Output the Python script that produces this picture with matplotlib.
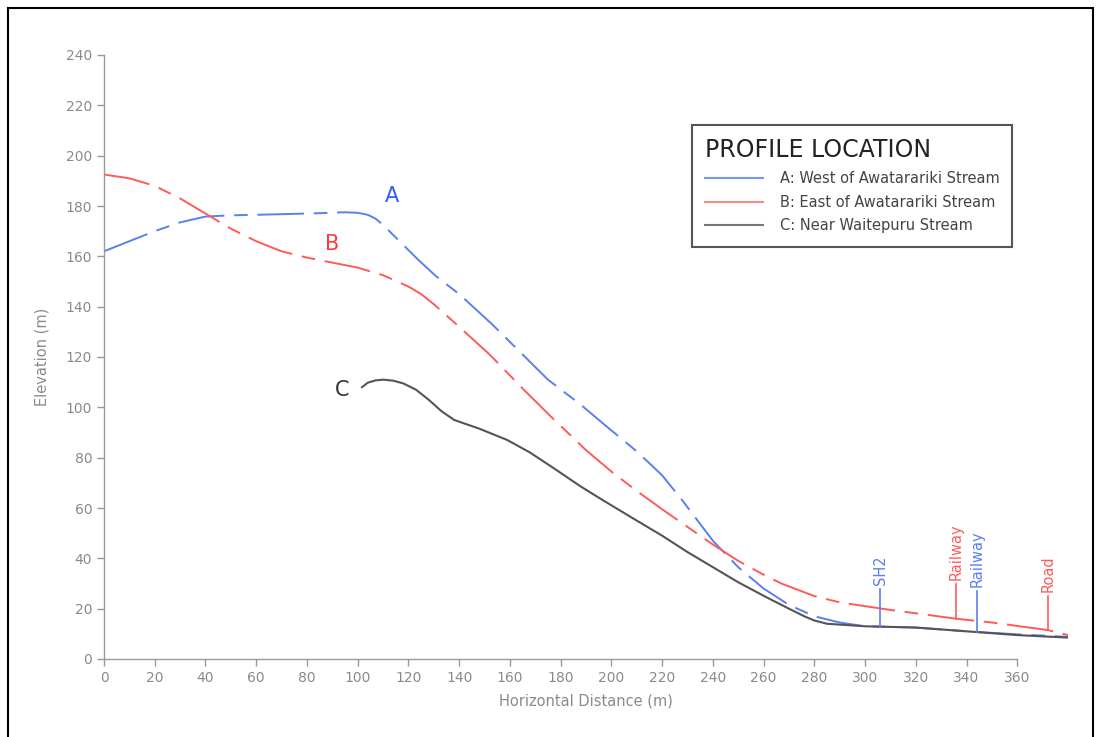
import numpy as np
import matplotlib.pyplot as plt
from matplotlib.lines import Line2D
from matplotlib.patches import Rectangle

# profile A: west of Awatarariki Stream
a_x = [0, 10, 20, 30, 40, 50, 60, 80, 95, 100, 104, 107, 110, 113, 117, 124, 131, 140, 153, 165,
       175, 188, 198, 210, 220, 228, 234, 240, 250, 260, 270, 280, 290, 300, 320, 340, 360, 380]
a_y = [162, 166, 170, 173.5, 175.8, 176.3, 176.5, 177, 177.5, 177.3, 176.5, 175, 172.5, 169.5,
       165.5, 158.5, 152, 145, 133, 121, 111, 101, 92.5, 82.5, 73, 63, 55, 47, 36.5, 28, 21.5, 17,
       14.5, 13, 12.5, 11, 9.8, 8.8]

# profile B: east of Awatarariki Stream
b_x = [0, 10, 20, 30, 40, 50, 60, 70, 80, 90, 100, 110, 120, 125, 130, 140, 152, 165, 177, 190,
       200, 209, 220, 230, 240, 250, 260, 267, 280, 290, 310, 336, 350, 372, 380]
b_y = [192.5, 191, 188, 183, 177, 171, 166, 162, 159.5, 157.5, 155.5, 152.5, 148, 145, 141, 132,
       121, 107.5, 95.5, 83, 74.5, 67.5, 59.5, 52.5, 45.5, 39, 33.5, 30, 25, 22.5, 19.5, 16, 14.5,
       11.5, 9.5]

# profile C: near Waitepuru Stream
c_x = [101.7, 104, 107, 110, 114, 118, 123, 128, 133, 138, 148, 159, 168, 177, 188, 196, 210,
       220, 230, 240, 250, 261, 270, 276, 280, 285, 300, 320, 340, 360, 380]
c_y = [108, 109.8, 110.7, 111, 110.6, 109.5, 107, 103, 98.5, 95, 91.5, 87, 82, 76, 68.5, 63.5, 55,
       49, 42.5, 36.5, 30.5, 24.6, 20, 17, 15.3, 14, 13, 12.5, 11, 9.5, 8.5]

# feature markers along the profiles
mark_x = [306, 336, 344, 372]
mark_top = [28, 30, 27, 25]
mark_labels = ['SH2', 'Railway', 'Railway', 'Road']
mark_series = ['A', 'B', 'A', 'B']

blue = '#5a7ff0'
red = '#ff5a5a'
dark = '#555555'
grey = '#8a8a8a'

fig = plt.figure(figsize=(11.02, 7.37), dpi=100)
ax = fig.add_axes([104 / 1102, 78 / 737, 964 / 1102, 604 / 737])

dash = (0, (24, 5, 7, 5))
ax.plot(a_x, a_y, color=blue, lw=1.4, linestyle=dash)
ax.plot(b_x, b_y, color=red, lw=1.4, linestyle=dash)
ax.plot(c_x, c_y, color=dark, lw=1.5)

series = {'A': (a_x, a_y, blue), 'B': (b_x, b_y, red)}
for mx, top, lab, s in zip(mark_x, mark_top, mark_labels, mark_series):
    sx, sy, col = series[s]
    base = np.interp(mx, sx, sy)
    ax.plot([mx, mx], [base, top], color=col, lw=1.2)
    ax.text(mx, top + 1.5, lab, color=col, rotation=90, ha='center', va='bottom', fontsize=10.5)

ax.text(113.5, 184, 'A', color='#2f5cf0', fontsize=15, ha='center', va='center')
ax.text(90, 165, 'B', color='#ff3b3b', fontsize=15, ha='center', va='center')
ax.text(94, 107, 'C', color='#333333', fontsize=15, ha='center', va='center')

ax.set_xlim(0, 380)
ax.set_ylim(0, 240)
ax.set_xticks(np.arange(0, 361, 20))
ax.set_yticks(np.arange(0, 241, 20))
ax.spines['top'].set_visible(False)
ax.spines['right'].set_visible(False)
ax.spines['bottom'].set_bounds(0, 360)
for sp in ['left', 'bottom']:
    ax.spines[sp].set_color('#999999')
    ax.spines[sp].set_linewidth(1.0)
ax.tick_params(colors='#999999', labelcolor=grey, labelsize=10, length=5, width=1)
ax.set_xlabel('Horizontal Distance (m)', color=grey, fontsize=10.5, labelpad=6)
ax.set_ylabel('Elevation (m)', color=grey, fontsize=10.5, labelpad=12)

handles = [Line2D([], [], color='#7b98f0', lw=1.5),
           Line2D([], [], color='#f58a8a', lw=1.5),
           Line2D([], [], color='#777777', lw=1.5)]
labels = ['A: West of Awatarariki Stream', 'B: East of Awatarariki Stream', 'C: Near Waitepuru Stream']
leg = ax.legend(handles, labels, title='PROFILE LOCATION', loc='upper left',
                bbox_to_anchor=(0.61, 0.884), borderaxespad=0, fontsize=10.5, title_fontsize=17,
                fancybox=False, edgecolor='#555555', framealpha=1,
                handlelength=4.0, handletextpad=1.1, borderpad=0.9, labelspacing=0.6)
leg.get_frame().set_linewidth(1.5)
leg._legend_box.align = 'left'
for t in leg.get_texts():
    t.set_color('#444444')
leg.get_title().set_color('#222222')

fig.patches.append(Rectangle((8 / 1102, -0.02), 1085 / 1102, 1.0 - 8 / 737 + 0.02,
                             transform=fig.transFigure, fill=False, edgecolor='black',
                             lw=1.5, clip_on=False))

fig.savefig('out.png', dpi=100)
